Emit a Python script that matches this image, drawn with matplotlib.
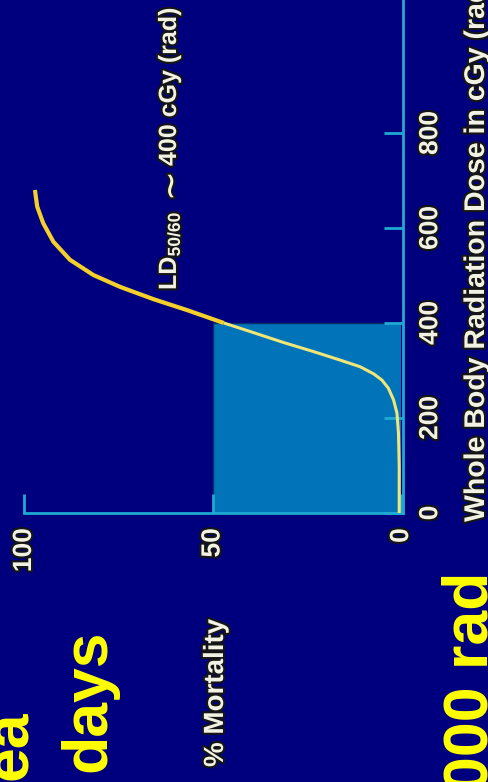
import matplotlib
matplotlib.use("Agg")
import matplotlib.pyplot as plt
import matplotlib.patheffects as pe
import numpy as np

# dose-mortality curve (dose in cGy, mortality in %)
dose = [0, 97, 168, 210, 238, 263, 280, 293, 308, 322, 340, 359, 382, 400,
        427, 450, 476, 501, 533, 571, 610, 645, 680]
mortality = [0.5, 0.5, 0.7, 1.1, 2.0, 3.4, 5.1, 7.3, 10.9, 16.2, 23.3, 31.2, 40, 47,
             56.7, 65.6, 74.5, 81.6, 87.8, 92.2, 94.9, 96.5, 97.1]

dose_ticks = [0, 200, 400, 600, 800]
mort_ticks = [0, 50, 100]
ld50 = 400

bg = "#00007f"
axis_col = "#1eaad2"
rect_col = "#0073b9"
gold = "#f5cf2a"
pale = "#f0e678"
label_col = "#f2f2e4"

plt.rcParams["font.family"] = ["Liberation Sans", "DejaVu Sans"]
plt.rcParams["mathtext.fontset"] = "custom"
plt.rcParams["mathtext.rm"] = "Liberation Sans:bold"
plt.rcParams["mathtext.default"] = "rm"

W, H = 489, 782
fig = plt.figure(figsize=(W / 100, H / 100), dpi=100)
fig.patch.set_facecolor(bg)

# axes laid out like the rotated slide: mortality runs right->left, dose bottom->top
ax = fig.add_axes([24 / W, 1 - 513 / H, (403 - 24) / W, 513 / H])
ax.set_facecolor(bg)
ax.set_xlim(100, -0.5)
ax.set_ylim(0, 513 / 95 * 200)

# LD50 box
ax.fill_between([0, 50], 0, ld50, color=rect_col, lw=0, zorder=1)
ax.plot([50, 50], [0, ld50], color="#08306a", lw=1, zorder=1.5)
ax.plot([50, 0], [ld50, ld50], color="#08306a", lw=1, zorder=1.5)

d = np.array(dose)
m = np.array(mortality)
inside = d <= ld50
ax.plot(m[inside], d[inside], color=pale, lw=2.2, solid_capstyle="butt",
        solid_joinstyle="round", zorder=3)
ax.plot(m[d >= ld50], d[d >= ld50], color=gold, lw=3, solid_capstyle="butt",
        solid_joinstyle="round", zorder=3)

for s in ["left", "top"]:
    ax.spines[s].set_visible(False)
for s in ["bottom", "right"]:
    ax.spines[s].set_color(axis_col)
    ax.spines[s].set_linewidth(2)

ax.yaxis.tick_right()
ax.set_yticks(dose_ticks)
ax.set_xticks(mort_ticks)
ax.tick_params(axis="both", direction="in", length=14, width=2, color=axis_col, zorder=4)
ax.tick_params(axis="y", pad=11)
ax.tick_params(axis="x", pad=11)

stroke = [pe.withStroke(linewidth=3, foreground="#151515")]
for lab in ax.get_yticklabels():
    lab.set_rotation(90)
    lab.set_va("center")
    lab.set_ha("left")
for lab in ax.get_xticklabels():
    lab.set_rotation(90)
    lab.set_va("top")
    lab.set_ha("center")
for lab in ax.get_xticklabels() + ax.get_yticklabels():
    lab.set_fontsize(19)
    lab.set_fontweight("bold")
    lab.set_color(label_col)
    lab.set_path_effects(stroke)


def fx(x):
    return x / W


def fy(y):
    return 1 - y / H


txt = dict(rotation=90, rotation_mode="anchor", color=label_col, fontweight="bold",
           path_effects=stroke)
fig.text(fx(484), fy(522), "Whole Body Radiation Dose in cGy (rad)", ha="left",
         va="baseline", fontsize=20.5, **txt)
fig.text(fx(223), fy(767), "% Mortality", ha="left", va="baseline", fontsize=20, **txt)

# LD50 annotation, split so the tilde can be drawn larger and thinner
fig.text(fx(176), fy(290), "LD$_{50/60}$", ha="left", va="baseline", fontsize=18, **txt)
fig.text(fx(172), fy(186), "\u223c", ha="center", va="center", rotation=90,
         rotation_mode="anchor", color=label_col, fontsize=26, family="DejaVu Sans",
         path_effects=stroke)
fig.text(fx(176), fy(166), "400 cGy (rad)", ha="left", va="baseline", fontsize=18, **txt)

big = dict(rotation=90, rotation_mode="anchor", color="#ffff00", fontsize=45,
           fontweight="bold")
fig.text(fx(27), fy(710), "ea", ha="right", va="baseline", **big)
fig.text(fx(105), fy(772), "days", ha="left", va="baseline", **big)
fig.text(fx(488), fy(572), "000 rad", ha="right", va="baseline", **big)

fig.savefig("out.png", dpi=100, facecolor=bg)
